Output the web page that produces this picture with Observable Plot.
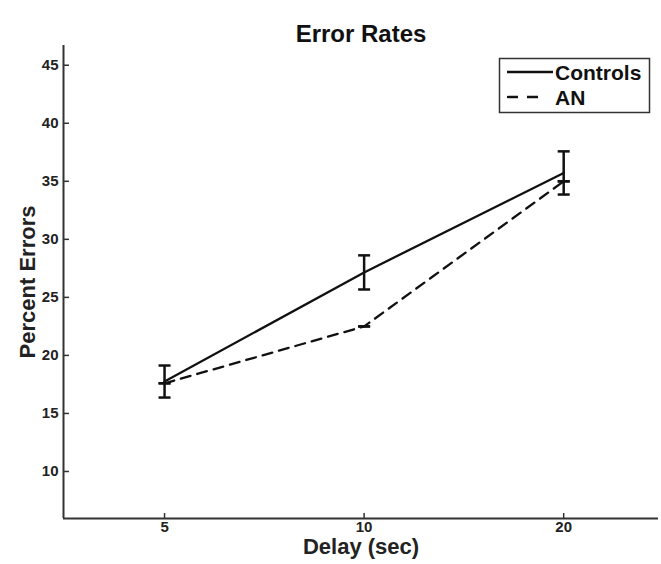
<!DOCTYPE html>
<html>
<head>
<meta charset="utf-8">
<script src="https://cdn.jsdelivr.net/npm/d3@7"></script>
<script src="https://cdn.jsdelivr.net/npm/@observablehq/plot@0.6"></script>
<style>
  html, body { margin: 0; padding: 0; background: #fff; }
  #chart svg { display: block; }
</style>
</head>
<body>
<div id="chart"></div>
<script>
// ---- data ----
const title = "Error Rates";
const xLabel = "Delay (sec)";
const yLabel = "Percent Errors";
const seriesNames = ["Controls", "AN"];
const delays = [5, 10, 20];
const controls = [17.75, 27.15, 35.72];
const controlsErr = [1.38, 1.47, 1.86];
const an = [17.6, 22.5, 35.0];
const anErr = [0, 0, 0];
const xTicks = [5, 10, 20];
const yTicks = [10, 15, 20, 25, 30, 35, 40, 45];

const rows = [];
delays.forEach((d, i) => {
  rows.push({series: seriesNames[0], x: d, y: controls[i], err: controlsErr[i]});
  rows.push({series: seriesNames[1], x: d, y: an[i], err: anErr[i]});
});
const ctrlRows = rows.filter(r => r.series === seriesNames[0]);
const anRows = rows.filter(r => r.series === seriesNames[1]);

const W = 661, H = 564;
const mL = 63, mR = 3, mT = 45, mB = 46;
const frameW = W - mL - mR, frameH = H - mT - mB;
const xDomain = [3.52, 27.8];
const yDomain = [5.95, 46.7];
const font = "'Liberation Sans', Arial, Helvetica, sans-serif";
const ink = "#111";
const axisInk = "#333";
const labelInk = "#222";

const capSymbol = {
  draw(context) {
    context.moveTo(-6, 0);
    context.lineTo(6, 0);
  }
};

const chart = Plot.plot({
  width: W,
  height: H,
  marginLeft: mL,
  marginRight: mR,
  marginTop: mT,
  marginBottom: mB,
  style: {fontFamily: font, background: "#fff", overflow: "visible"},
  x: {type: "log", domain: xDomain, axis: null},
  y: {domain: yDomain, axis: null},
  marks: [
    // axis lines
    Plot.ruleX([xDomain[0]], {stroke: axisInk, strokeWidth: 2}),
    Plot.ruleY([yDomain[0]], {stroke: axisInk, strokeWidth: 2}),
    // inward ticks
    Plot.tickX(xTicks, {x: d => d, insetTop: frameH - 5, stroke: axisInk, strokeWidth: 1.5}),
    Plot.tickY(yTicks, {y: d => d, insetRight: frameW - 6, stroke: axisInk, strokeWidth: 1.5}),
    // tick labels
    Plot.text(xTicks, {x: d => d, text: d => String(d), frameAnchor: "bottom", dy: 13,
      fontSize: 15, fontWeight: "bold", fill: labelInk}),
    Plot.text(yTicks, {y: d => d, text: d => String(d), frameAnchor: "left", dx: -5, textAnchor: "end",
      fontSize: 15, fontWeight: "bold", fill: labelInk}),
    // axis labels and title
    Plot.text([xLabel], {text: d => d, frameAnchor: "bottom", dy: 35,
      fontSize: 22, fontWeight: "bold", fill: labelInk}),
    Plot.text([yLabel], {text: d => d, frameAnchor: "left", textAnchor: "middle", dx: -36, rotate: -90,
      fontSize: 22, fontWeight: "bold", fill: labelInk}),
    Plot.text([title], {text: d => d, frameAnchor: "top", dy: -21,
      fontSize: 24, fontWeight: "bold", fill: ink}),
    // lines
    Plot.line(ctrlRows, {x: "x", y: "y", stroke: ink, strokeWidth: 2.3}),
    Plot.line(anRows, {x: "x", y: "y", stroke: ink, strokeWidth: 2.3, strokeDasharray: "10,7"}),
    // error bars
    Plot.ruleX(rows, {x: "x", y1: d => d.y - d.err, y2: d => d.y + d.err, stroke: ink, strokeWidth: 2.5}),
    Plot.dot(rows, {x: "x", y: d => d.y - d.err, symbol: capSymbol, stroke: ink, strokeWidth: 2.5, fill: "none"}),
    Plot.dot(rows, {x: "x", y: d => d.y + d.err, symbol: capSymbol, stroke: ink, strokeWidth: 2.5, fill: "none"})
  ]
});

document.getElementById("chart").appendChild(chart);

// legend (inside the plot, top-right)
const svg = d3.select(chart);
const lg = svg.append("g").attr("class", "legend").attr("text-anchor", "start");
lg.append("rect")
  .attr("x", 499.5).attr("y", 58.5).attr("width", 150).attr("height", 54)
  .attr("fill", "#fff").attr("stroke", "#333").attr("stroke-width", 1.5);
const legendItems = [
  {name: seriesNames[0], dash: null, y: 72, x2: 553},
  {name: seriesNames[1], dash: "11,9", y: 97, x2: 539}
];
legendItems.forEach(it => {
  lg.append("line")
    .attr("x1", 507).attr("x2", it.x2).attr("y1", it.y).attr("y2", it.y)
    .attr("stroke", ink).attr("stroke-width", 2.3)
    .attr("stroke-dasharray", it.dash);
  lg.append("text")
    .attr("x", 555).attr("y", it.y).attr("dy", "0.36em")
    .attr("text-anchor", "start")
    .attr("font-family", font).attr("font-size", 21).attr("font-weight", "bold")
    .attr("fill", ink)
    .text(it.name);
});
</script>
</body>
</html>
